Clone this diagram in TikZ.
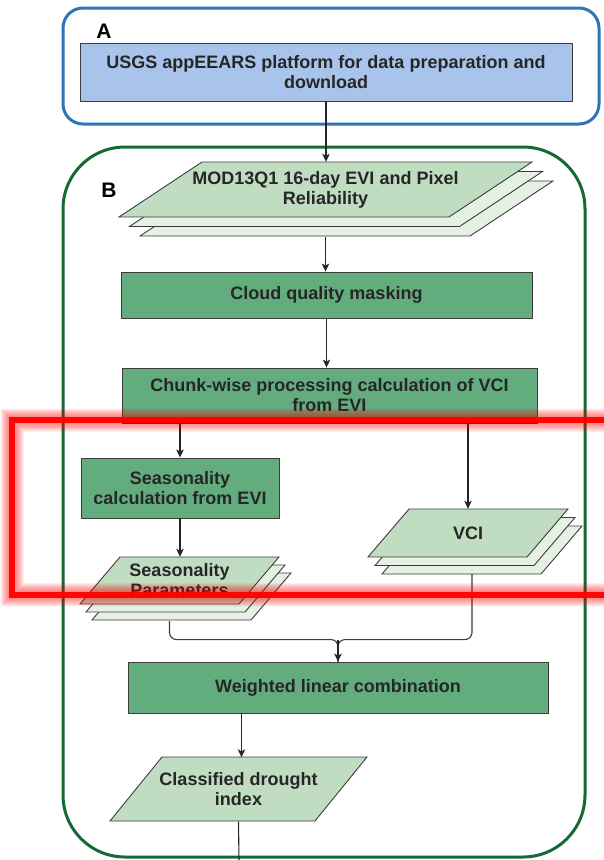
\documentclass[tikz,border=0pt]{standalone}
\usepackage{fontspec}
\setmainfont{Liberation Sans}
\usetikzlibrary{arrows.meta}

\definecolor{frameblue}{RGB}{46,117,182}
\definecolor{usgsblue}{RGB}{169,196,235}
\definecolor{framegreen}{RGB}{22,104,52}
\definecolor{procgreen}{RGB}{99,172,125}
\definecolor{datagreen}{RGB}{192,221,194}
\definecolor{layergreen}{RGB}{228,241,227}
\definecolor{inkgray}{RGB}{38,38,38}
\definecolor{edgegray}{RGB}{60,60,60}
\definecolor{hilite}{RGB}{255,0,0}

% parallelogram: top-left x, top y, width, height, slant
\newcommand{\paral}[5]{(#1,#2) -- ++(#3,0) -- ++(-#5,#4) -- ++(-#3,0) -- cycle}
% stack of three data sheets: x, y, width, height, slant, dx, dy
\newcommand{\datastack}[7]{%
  \draw[datasheet, fill=layergreen] \paral{#1+2*#6}{#2+2*#7}{#3}{#4}{#5};
  \draw[datasheet, fill=layergreen] \paral{#1+#6}{#2+#7}{#3}{#4}{#5};
  \draw[datasheet, fill=datagreen] \paral{#1}{#2}{#3}{#4}{#5};}

\tikzset{
  labeltext/.style={font=\bfseries\fontsize{18}{20}\selectfont, text=inkgray, align=center},
  process/.style={labeltext, draw=edgegray, line width=0.9pt, fill=procgreen, inner sep=0pt},
  sourcebox/.style={labeltext, draw=edgegray, line width=0.9pt, fill=usgsblue, inner sep=0pt},
  datatext/.style={labeltext, inner sep=0pt},
  datasheet/.style={draw=edgegray, line width=0.9pt},
  flow/.style={draw=inkgray, line width=1.1pt, -{Stealth[length=8pt,width=7.5pt,inset=2pt]}},
  plainflow/.style={draw=inkgray, line width=1.1pt},
  merge/.style={draw=edgegray, line width=1.1pt, rounded corners=7pt},
  panel/.style={font=\bfseries\fontsize{21}{21}\selectfont, text=black},
}

\begin{document}
\begin{tikzpicture}[x=1pt, y=-1pt]
\useasboundingbox (0,0) rectangle (604,860);

% panel frames
\draw[frameblue, line width=3pt, rounded corners=20pt] (63,8) rectangle (599,124);
\draw[framegreen, line width=3pt, rounded corners=62pt] (63,147) rectangle (585,857);
\node[panel] (labA) at (104,31) {A};
\node[panel] (labB) at (109,190) {B};

% data sheets
\datastack{202}{162}{330}{55}{83}{10.5}{9.5}
\datastack{409}{509}{159}{48}{41}{7}{8.5}
\datastack{120}{557}{159}{47}{40}{6}{8}
\draw[datasheet, fill=datagreen] \paral{162}{757}{205}{64}{52};

% boxes and texts
\node[sourcebox, minimum width=492pt, minimum height=58pt] (usgs) at (326,72)
  {USGS appEEARS platform for data preparation and\\download};
\node[datatext, minimum height=55pt] (mod) at (325.5,189.5)
  {MOD13Q1 16-day EVI and Pixel\\Reliability};
\node[process, minimum width=411pt, minimum height=46pt] (cloud) at (326.5,295)
  {Cloud quality masking};
\node[process, minimum width=415pt, minimum height=55pt] (chunk) at (329.5,395.5)
  {Chunk-wise processing calculation of VCI\\from EVI};
\node[process, minimum width=198pt, minimum height=60pt] (seascalc) at (180,488)
  {Seasonality\\calculation from EVI};
\node[datatext, minimum height=48pt] (vci) at (468,533) {VCI};
\node[datatext, minimum height=47pt] (seaspar) at (179.5,580.5)
  {Seasonality\\Parameters};
\node[process, minimum width=420pt, minimum height=51pt] (wlc) at (338,687.5)
  {Weighted linear combination};
\node[datatext, minimum height=64pt] (cdi) at (238.5,789.5)
  {Classified drought\\index};

% connectors
\coordinate (modbase) at ([yshift=-20pt]mod.south);
\coordinate (seasbase) at ([xshift=-10pt,yshift=-17pt]seaspar.south);
\coordinate (vcibase) at ([xshift=4pt,yshift=-17pt]vci.south);
\coordinate (join) at ([yshift=22pt]wlc.north);
\coordinate (exit) at (239,860);

\draw[flow] (usgs.south) -- (usgs.south |- mod.north);
\draw[flow] (modbase) -- (modbase |- cloud.north);
\draw[flow] (cloud.south) -- (cloud.south |- chunk.north);
\draw[flow] (chunk.south -| seascalc.north) -- (seascalc.north);
\draw[flow] (chunk.south -| vci.north) -- (vci.north);
\draw[flow] (seascalc.south) -- (seascalc.south |- seaspar.north);
\draw[merge] (seasbase) |- (join) -- (wlc.north);
\draw[merge] (vcibase) |- (join) -- (wlc.north);
\draw[flow] (join) -- (wlc.north);
\draw[flow] ([xshift=3pt]wlc.south -| cdi.north) -- ([xshift=3pt]cdi.north);
\draw[plainflow] (cdi.south) -- (exit);

% red highlight band with soft glow
\foreach \w in {8,9,...,24} {
  \draw[hilite, line width=\w pt, opacity=0.035] (12,420) rectangle (650,594.5);
}
\draw[hilite, line width=6pt, opacity=0.95] (12,420) rectangle (650,594.5);
\end{tikzpicture}
\end{document}
